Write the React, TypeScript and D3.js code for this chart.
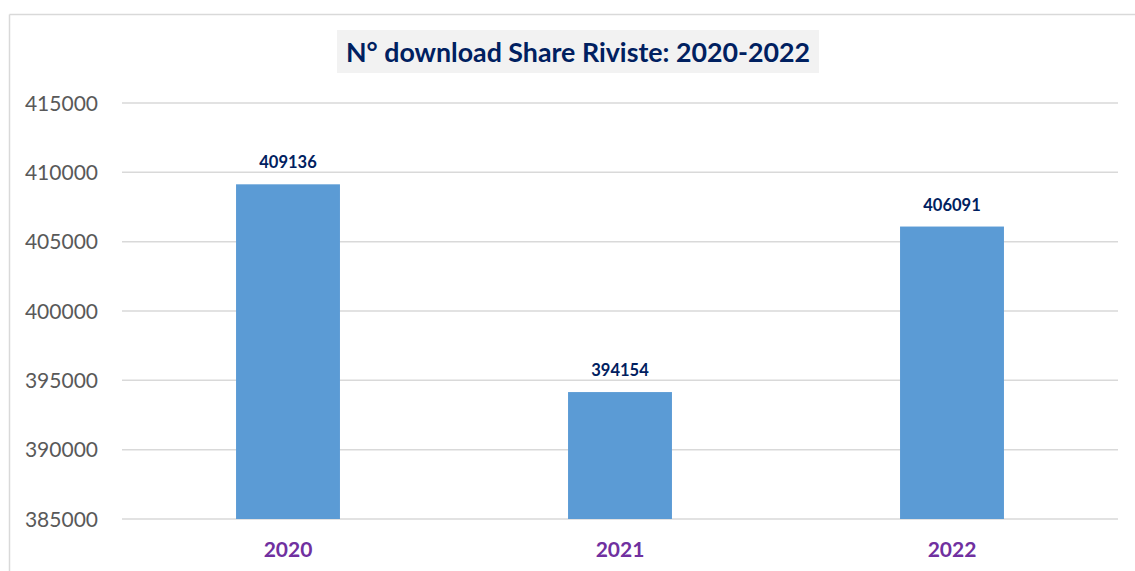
import React from "react";
import * as d3 from "d3";

const categories = ["2020", "2021", "2022"];
const downloads = [409136, 394154, 406091];
const yTicks = [385000, 390000, 395000, 400000, 405000, 410000, 415000];
const title = "N° download Share Riviste: 2020-2022";

const W = 1135;
const H = 571;
const FONT = "Lato, 'Open Sans', sans-serif";

export default function App() {
  const x = d3
    .scaleBand<string>()
    .domain(categories)
    .range([122, 1118])
    .paddingInner(0.687)
    .paddingOuter(0.3435);
  const y = d3.scaleLinear().domain([385000, 415000]).range([519, 103]);

  return (
    <div style={{ position: "absolute", left: 0, top: 0 }}>
      <svg width={W} height={H} style={{ display: "block", background: "#fff" }}>
        {/* chart border */}
        <line x1={9.5} y1={14.5} x2={W} y2={14.5} stroke="#d9d9d9" strokeWidth={1.5} />
        <line x1={9.5} y1={14.5} x2={9.5} y2={H} stroke="#d9d9d9" strokeWidth={1.5} />

        {/* title */}
        <rect x={337} y={30} width={482} height={43} fill="#f2f2f2" />
        <text
          x={578}
          y={62}
          textAnchor="middle"
          fontFamily={FONT}
          fontWeight={700}
          fontSize={26}
          fill="#002060"
          textLength={464}
          lengthAdjust="spacingAndGlyphs"
        >
          {title}
        </text>

        {/* gridlines & y labels */}
        {yTicks.map((t) => (
          <g key={t}>
            <line x1={122} x2={1118} y1={y(t)} y2={y(t)} stroke="#d9d9d9" strokeWidth={1.5} />
            <text
              x={98}
              y={y(t)}
              dy="0.36em"
              textAnchor="end"
              fontFamily={FONT}
              fontSize={21}
              fill="#595959"
            >
              {t}
            </text>
          </g>
        ))}

        {/* bars */}
        {categories.map((c, i) => (
          <g key={c}>
            <rect
              x={x(c)}
              y={y(downloads[i])}
              width={x.bandwidth()}
              height={y(385000) - y(downloads[i])}
              fill="#5b9bd5"
            />
            <text
              x={(x(c) as number) + x.bandwidth() / 2}
              y={y(downloads[i]) - 16}
              textAnchor="middle"
              fontFamily={FONT}
              fontWeight={700}
              fontSize={16.5}
              fill="#002060"
            >
              {downloads[i]}
            </text>
            <text
              x={(x(c) as number) + x.bandwidth() / 2}
              y={557}
              textAnchor="middle"
              fontFamily={FONT}
              fontWeight={700}
              fontSize={21}
              fill="#7030a0"
            >
              {c}
            </text>
          </g>
        ))}
      </svg>
    </div>
  );
}
